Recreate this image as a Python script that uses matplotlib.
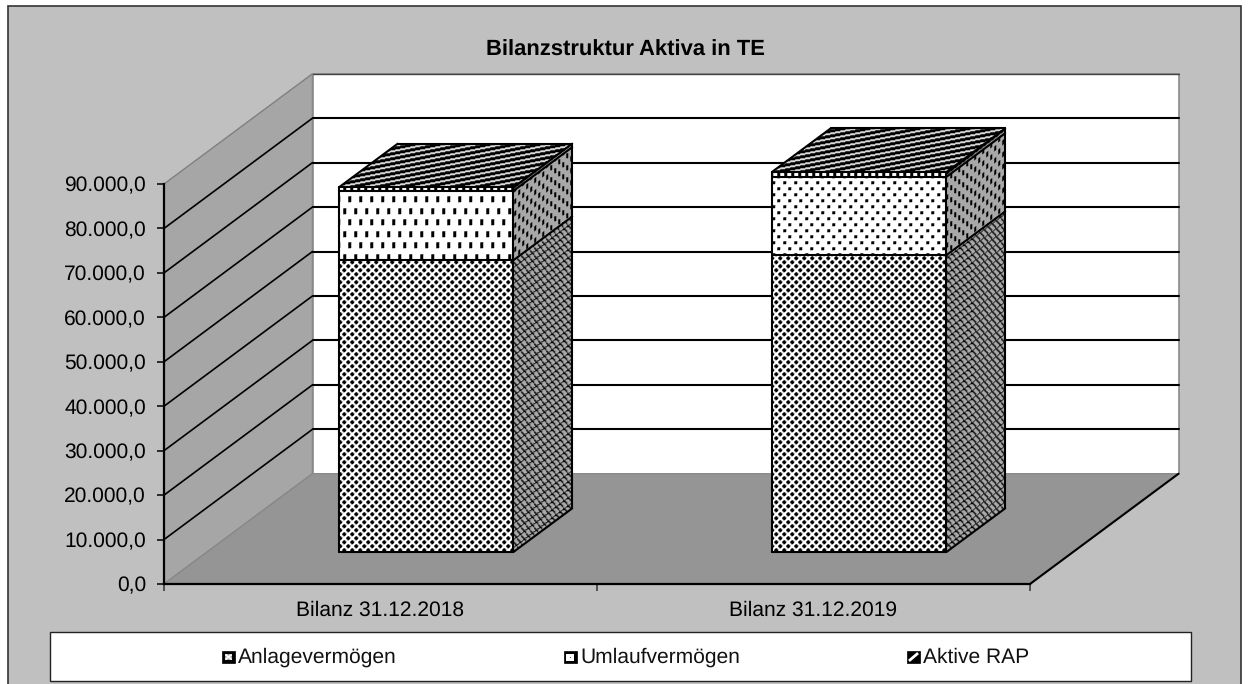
import numpy as np
import matplotlib
matplotlib.use("Agg")
import matplotlib.pyplot as plt
from matplotlib.patches import Polygon, Rectangle

plt.rcParams['font.family'] = ['Liberation Sans', 'DejaVu Sans']
plt.rcParams['text.hinting'] = 'no_hinting'
plt.rcParams['text.hinting_factor'] = 1

W, H = 1249, 684

# data
categories = ['Bilanz 31.12.2018', 'Bilanz 31.12.2019']
anlage = [65650, 66800]
umlauf = [15600, 17600]
rap = [800, 1100]
y_ticks = [0, 10000, 20000, 30000, 40000, 50000, 60000, 70000, 80000, 90000]
legend_names = ['Anlagevermögen', 'Umlaufvermögen', 'Aktive RAP']

# depth of the fake 3d box, in axis units
DX = 148.5 / 433
DY = 110 / 399 * 90000
BAR_W = 0.403
BAR_SHIFT = 0.006
D0, D1 = 0.29, 0.686

fig = plt.figure(figsize=(W / 100, H / 100), dpi=100, facecolor='white')

# page layer in pixels: frame, title, legend
page = fig.add_axes([0, 0, 1, 1], zorder=0)
page.set_xlim(0, W)
page.set_ylim(H, 0)
page.axis('off')
page.add_patch(Rectangle((8, 5.5), 1233, 700, fc='#C0C0C0', ec='#333333', lw=1.2))
page.text(625, 50, 'Bilanzstruktur Aktiva in TE', ha='center', va='center',
          fontsize=15.5, fontweight='bold', color='black')
page.add_patch(Rectangle((50, 632), 1141, 49, fc='white', ec='#222222', lw=1))

ax = fig.add_axes([164 / W, 1 - 584 / H, 866 / W, 400 / H], zorder=1)
ax.patch.set_alpha(0)
ax.set_xlim(0, 2)
ax.set_ylim(0, 90000)


def proj(u, v, d=0.0):
    return (u + d * DX, v + d * DY)


def face(pts, **kw):
    p = Polygon(pts, closed=True, clip_on=False, **kw)
    ax.add_patch(p)
    return p


def line(a, b, color='black', lw=1.5, z=3):
    ax.plot([a[0], b[0]], [a[1], b[1]], color=color, lw=lw, clip_on=False,
            zorder=z, solid_capstyle='round')


def cell(rows):
    return np.array([[c == '#' for c in r] for r in rows], dtype=float)


def dots(w, h, spots, dw, dh):
    c = np.zeros((h, w))
    for x, y in spots:
        for j in range(dh):
            for i in range(dw):
                c[(y + j) % h, (x + i) % w] = 1
    return c


cross = cell(["...##...",
              "..####..",
              "..####..",
              "...##...",
              "#......#",
              "##....##",
              "##....##",
              "#......#"])
hatch = cell(["####",
              "#...",
              ".#..",
              ".#..",
              "..#.",
              "..#.",
              "...#",
              "...#"])
stripes = cell(["#", "#", "#", ".", "."])
big_dots = dots(11, 23, [(2, 1), (7, 12)], 3, 6)
small_dots = dots(11, 12, [(2, 1), (7, 7)], 3, 3)
side_dots = dots(8, 12, [(2, 1), (6, 7)], 2, 5)


def texture(pts, pat, fg=0.0, bg=1.0, shear=0.0, z=2):
    # fill a polygon with a repeating pixel pattern
    h, w = pat.shape
    xx, yy = np.meshgrid(np.arange(W), np.arange(H))
    i = np.floor(yy + shear * xx).astype(int) % h
    j = xx % w
    img = bg + (fg - bg) * pat[i, j]
    # soften a little, the pattern is not crisp in print
    img = (img * 2 + np.roll(img, 1, 0) + np.roll(img, 1, 1)) / 4
    inv = ax.transData.inverted()
    x0, y0 = inv.transform((0, 0))
    x1, y1 = inv.transform((W, H))
    im = ax.imshow(img, cmap='gray', vmin=0, vmax=1, extent=(x0, x1, y0, y1),
                   origin='upper', aspect='auto', interpolation='nearest', zorder=z)
    clip = Polygon(pts, closed=True, transform=ax.transData)
    im.set_clip_path(clip)
    im.set_clip_box(fig.bbox)


# walls and floor
top = y_ticks[-1]
face([proj(0, 0), proj(0, top), proj(0, top, 1), proj(0, 0, 1)],
     fc='#A6A6A6', ec='#808080', lw=1, zorder=1)
face([proj(0, 0, 1), proj(0, top, 1), proj(2, top, 1), proj(2, 0, 1)],
     fc='white', ec='#8A8A8A', lw=1.2, zorder=1)
face([proj(0, 0), proj(2, 0), proj(2, 0, 1), proj(0, 0, 1)],
     fc='#959595', ec='#888888', lw=0.8, zorder=1)

for v in y_ticks[1:-1]:
    line(proj(0, v), proj(0, v, 1), lw=1.2, z=1.5)
    line(proj(0, v, 1), proj(2, v, 1), lw=1.5, z=1.5)
line(proj(0, top, 1), proj(2, top, 1), color='#444444', lw=1, z=1.5)
line(proj(2, 0), proj(2, 0, 1), lw=1.5, z=1.5)

# stacked bars
front_umlauf = [big_dots, small_dots]
for n in range(len(categories)):
    u0 = n + 0.5 - BAR_W / 2 + BAR_SHIFT
    u1 = u0 + BAR_W
    v1 = anlage[n]
    v2 = v1 + umlauf[n]
    v3 = v2 + rap[n]

    def fr(u, v):
        return proj(u, v, D0)

    def bk(v):
        return proj(u1, v, D1)

    texture([fr(u0, 0), fr(u1, 0), fr(u1, v1), fr(u0, v1)], cross)
    texture([fr(u0, v1), fr(u1, v1), fr(u1, v2), fr(u0, v2)], front_umlauf[n])
    texture([fr(u0, v2), fr(u1, v2), fr(u1, v3), fr(u0, v3)], cell(["###...."]))
    texture([fr(u1, 0), bk(0), bk(v1), fr(u1, v1)], hatch, bg=0.66, shear=0.76)
    texture([fr(u1, v1), bk(v1), bk(v2), fr(u1, v2)], side_dots, bg=0.66, shear=0.76)
    texture([fr(u1, v2), bk(v2), bk(v3), fr(u1, v3)], stripes, bg=0.6, shear=0.76)
    texture([fr(u0, v3), fr(u1, v3), bk(v3), proj(u0, v3, D1)], stripes, bg=0.85, shear=0.2)

    # outlines
    for v in (0, v1, v2, v3):
        line(fr(u0, v), fr(u1, v))
    for a in (u0, u1):
        line(fr(a, 0), fr(a, v3))
    line(bk(0), bk(v3))
    for v in (0, v1, v2, v3):
        line(fr(u1, v), bk(v))
    line(fr(u0, v3), proj(u0, v3, D1))
    line(proj(u0, v3, D1), bk(v3))

# axes
fmt = lambda v: f'{v:,.1f}'.replace(',', 'X').replace('.', ',').replace('X', '.')
ax.set_yticks(y_ticks)
ax.set_yticklabels([fmt(v) for v in y_ticks])
ax.set_xticks([0, 1, 2])
ax.set_xticklabels([])
ax.set_xticks([0.5, 1.5], labels=categories, minor=True)
ax.tick_params(axis='y', length=5, width=1.1, pad=8, labelsize=15.3, color='black')
ax.tick_params(axis='x', which='major', length=5, width=1.1, color='#333333')
ax.tick_params(axis='x', which='minor', length=0, pad=12, labelsize=15.3)
ax.spines['top'].set_visible(False)
ax.spines['right'].set_visible(False)
for s in ('left', 'bottom'):
    ax.spines[s].set_linewidth(1.6)
    ax.spines[s].set_zorder(4)
ax.set_xlim(0, 2)
ax.set_ylim(0, 90000)

# legend keys, drawn by hand to look like the small hatched squares
key_x = [222, 564, 907]
text_x = [238, 580, 923]
for kx, tx, name, k in zip(key_x, text_x, legend_names, range(3)):
    page.add_patch(Rectangle((kx, 651), 13, 12, fc='black', ec='black', lw=0.5, zorder=3))
    if k == 0:
        page.add_patch(Rectangle((kx + 3, 654), 7, 6, fc='#A8A8A8', ec='none', zorder=4))
        page.plot([kx + 4, kx + 9], [655, 659], color='white', lw=1.2, zorder=5)
        page.plot([kx + 4, kx + 9], [659, 655], color='white', lw=1.2, zorder=5)
    elif k == 1:
        page.add_patch(Rectangle((kx + 2.5, 653.5), 8, 7, fc='white', ec='none', zorder=4))
        page.add_patch(Rectangle((kx + 6, 656.5), 1.5, 1.5, fc='#555555', ec='none', zorder=5))
    else:
        page.plot([kx + 3, kx + 10], [660, 654], color='white', lw=2, zorder=4)
    page.text(tx, 657.5, name, ha='left', va='center', fontsize=15, color='#111111')

fig.savefig('out.png', dpi=100, facecolor='white')
